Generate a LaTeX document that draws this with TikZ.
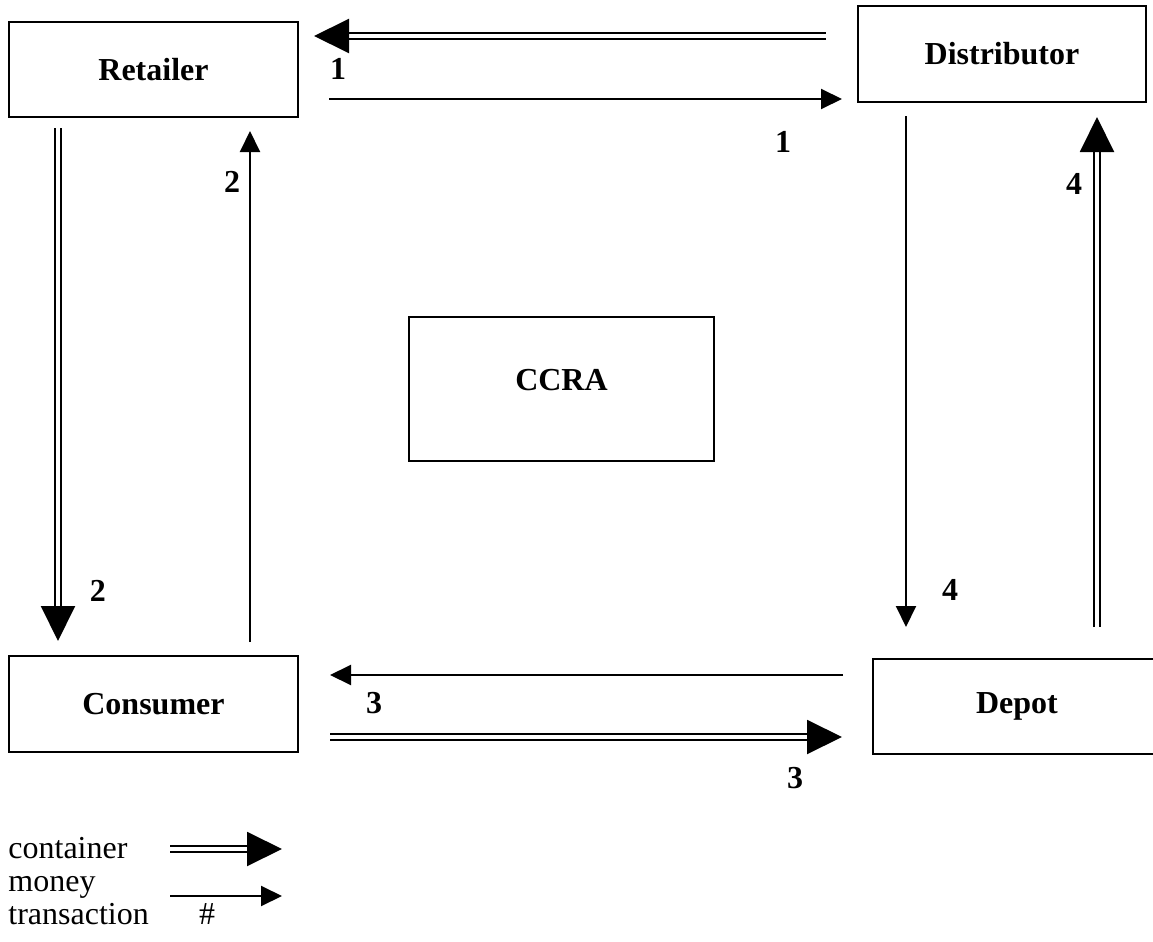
\documentclass[tikz,border=0pt]{standalone}
\usepackage{fontspec}
\setmainfont{Liberation Serif}
\usetikzlibrary{arrows.meta}
\begin{document}
\begin{tikzpicture}[x=0.5pt,y=-0.5pt,
  ent/.style={draw,line width=1pt,inner sep=0pt,font=\fontsize{16}{19}\selectfont\bfseries},
  money/.style={line width=1pt,-{Triangle[length=10.5pt,width=10pt]}},
  cont/.style={double,line width=1pt,double distance=2pt,-{Triangle[length=17.5pt,width=17pt]}},
  num/.style={font=\fontsize{16}{19}\selectfont\bfseries,inner sep=0pt},
  leg/.style={font=\fontsize{16}{19}\selectfont,anchor=base west,inner sep=0pt}]
\useasboundingbox (0,0) rectangle (1153,942);
% entities
\node[ent,minimum width=144.5pt,minimum height=47.5pt] (ret) at (153.5,69.5) {Retailer};
\node[ent,minimum width=144pt,minimum height=48pt] (dist) at (1002,54) {Distributor};
\node[ent,minimum width=152.5pt,minimum height=72pt,label={[num,yshift=4.5pt]center:CCRA}] (ccra) at (561.5,389) {};
\node[ent,minimum width=144.5pt,minimum height=48pt] (cons) at (153.5,704) {Consumer};
\node[ent,minimum width=144pt,minimum height=47.5pt] (dep) at (1017,706.5) {Depot};
% connector ends
\coordinate (c1a) at (826,36);  \coordinate (c1b) at (314,36);
\coordinate (m1a) at (329,99);  \coordinate (m1b) at (842,99);
\coordinate (c2a) at (58,128);  \coordinate (c2b) at (58,641);
\coordinate (m2a) at (250,642); \coordinate (m2b) at (250,131);
\coordinate (m4a) at (906,116); \coordinate (m4b) at (906,627);
\coordinate (c4a) at (1097,627); \coordinate (c4b) at (1097,117);
\coordinate (m3a) at (843,675); \coordinate (m3b) at (330,675);
\coordinate (c3a) at (330,737); \coordinate (c3b) at (842,737);
% connectors
\draw[cont] (c1a) -- (c1b);
\draw[money] (m1a) -- (m1b);
\draw[cont] (c2a) -- (c2b);
\draw[money] (m2a) -- (m2b);
\draw[money] (m4a) -- (m4b);
\draw[cont] (c4a) -- (c4b);
\draw[money] (m3a) -- (m3b);
\draw[cont] (c3a) -- (c3b);
% transaction numbers
\node[num] (n1a) at (338,69) {1};
\node[num] (n1b) at (783,142) {1};
\node[num] (n2a) at (98,591) {2};
\node[num] (n2b) at (232,182) {2};
\node[num] (n4a) at (950,590) {4};
\node[num] (n4b) at (1074,184) {4};
\node[num] (n3a) at (374,703) {3};
\node[num] (n3b) at (795,778) {3};
% legend
\node[leg] (lc) at (8,858) {container};
\node[leg] (lm) at (8,891) {money};
\node[leg] (lt) at (8,924) {transaction};
\node[leg,anchor=base] (lh) at (207,924) {\#};
\coordinate (lca) at (170,849); \coordinate (lcb) at (282,849);
\coordinate (lma) at (170,896); \coordinate (lmb) at (282,896);
\draw[cont] (lca) -- (lcb);
\draw[money] (lma) -- (lmb);
\end{tikzpicture}
\end{document}
